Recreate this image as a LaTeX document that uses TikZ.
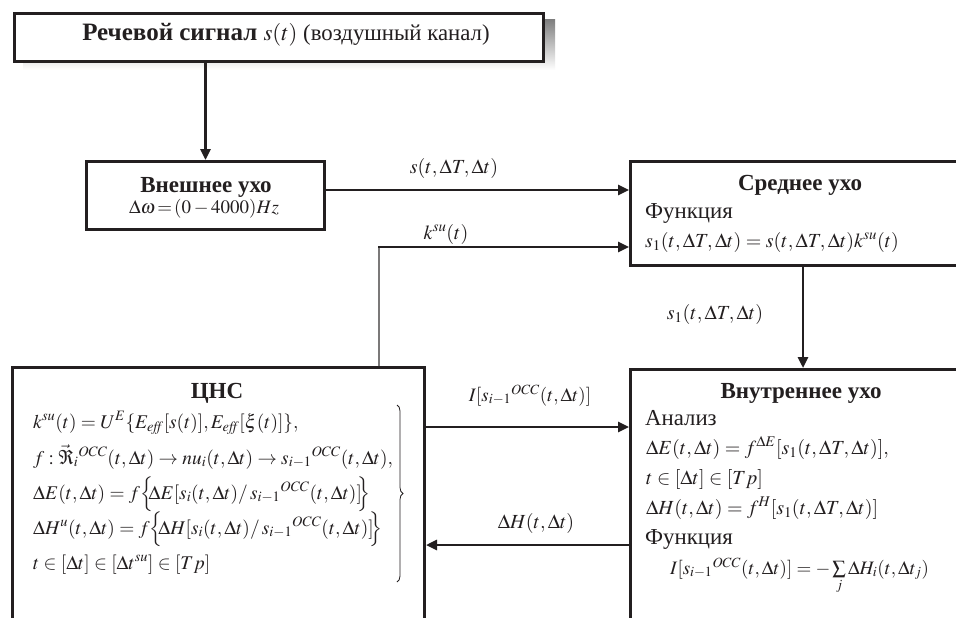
\documentclass[tikz,border=0pt]{standalone}
\usepackage{mathptmx}
\usepackage[no-math]{fontspec}
\setmainfont{Liberation Serif}
\usetikzlibrary{arrows.meta,decorations.pathreplacing}
\definecolor{ink}{RGB}{35,31,32}
\definecolor{shade}{RGB}{150,150,155}
\tikzset{
  boxnode/.style={draw=ink, line width=3pt, fill=white, anchor=north west, inner sep=0pt},
  arr/.style={draw=ink, line width=2.6pt, -{Triangle[length=11pt,width=10pt]}},
  thinline/.style={draw=ink!60, line width=1.1pt},
  txt/.style={inner sep=0pt, font=\fontsize{20}{24}\selectfont, text=ink},
  ttl/.style={inner sep=0pt, font=\fontsize{23}{27}\selectfont\bfseries, text=ink},
  lft/.style={txt, anchor=base west},
  cnsline/.style={lft, font=\fontsize{19.4}{23}\selectfont},
  word/.style={lft, font=\fontsize{22.8}{26}\selectfont},
}
\begin{document}
\begin{tikzpicture}[x=1pt,y=-1pt]
\clip (0,0) rectangle (956,618);
\fill[white] (0,0) rectangle (956,618);
% top box with shadow
\fill[shade] (23,20) rectangle (555,70);
\node[boxnode, minimum width=529pt, minimum height=48pt] (top) at (13,12) {};
\node[txt, anchor=base] (toptxt) at (286,41) {\fontsize{25}{29}\selectfont\textbf{Речевой сигнал} {\fontsize{22.8}{27}\selectfont$s(t)$ (воздушный канал)}};
% outer ear
\node[boxnode, minimum width=238pt, minimum height=68pt] (outer) at (85,160) {};
\node[ttl, anchor=base] (outerT) at (206,192) {Внешнее ухо};
\node[txt, anchor=base, font=\fontsize{19}{23}\selectfont] (outerF) at (204,213) {$\Delta\omega\,{=}\,(0-4000)Hz$};
% middle ear
\node[boxnode, minimum width=342pt, minimum height=104pt] (middle) at (629,160) {};
\node[ttl, anchor=base] (middleT) at (800,190) {Среднее ухо};
\node[word] (middleA) at (645,218) {Функция};
\node[lft] (middleF) at (645,247) {$s_1(t,\Delta T,\Delta t) = s(t,\Delta T,\Delta t)k^{su}(t)$};
% inner ear
\node[boxnode, minimum width=342pt, minimum height=272pt] (inner) at (629,368) {};
\node[ttl, anchor=base] (innerT) at (801,398) {Внутреннее ухо};
\node[word] (innerA) at (645,425) {Анализ};
\node[lft] (innerB) at (646,454) {$\Delta E(t,\Delta t) = f^{\Delta E}[s_1(t,\Delta T,\Delta t)],$};
\node[lft] (innerC) at (646,484) {$t\in[\Delta t]\in[Tp]$};
\node[lft] (innerD) at (646,514) {$\Delta H(t,\Delta t) = f^{H}[s_1(t,\Delta T,\Delta t)]$};
\node[word] (innerE) at (645,544) {Функция};
\node[lft, font=\fontsize{19}{23}\selectfont] (innerF) at (670,574) {$I[s_{i-1}{}^{OCC}(t,\Delta t)] = -\sum\limits_j \Delta H_i(t,\Delta t_j)$};
% CNS
\node[boxnode, minimum width=412pt, minimum height=274pt] (cns) at (11,366) {};
\node[ttl, anchor=base] (cnsT) at (217,398) {ЦНС};
\node[cnsline] (cnsA) at (33,428) {$k^{su}(t) = U^E\{E_{\mathit{eff}}[s(t)],E_{\mathit{eff}}[\xi(t)]\},$};
\node[cnsline] (cnsB) at (33,464) {$f:\vec{\Re}_i{}^{OCC}(t,\Delta t)\to nu_i(t,\Delta t)\to s_{i-1}{}^{OCC}(t,\Delta t),$};
\node[cnsline] (cnsC) at (33,499) {$\Delta E(t,\Delta t) = f\Big\{\!\!\Delta E[s_i(t,\Delta t)/\,s_{i-1}{}^{OCC}(t,\Delta t)]\!\!\Big\}$};
\node[cnsline] (cnsD) at (33,534) {$\Delta H^u(t,\Delta t) = f\Big\{\!\!\Delta H[s_i(t,\Delta t)/\,s_{i-1}{}^{OCC}(t,\Delta t)]\!\!\Big\}$};
\node[cnsline] (cnsE) at (33,569) {$t\in[\Delta t]\in[\Delta t^{su}]\in[Tp]$};
\coordinate (braceTop) at (397,405);
\coordinate (braceBot) at (397,582);
\draw[ink, line width=0.8pt, decorate, decoration={brace, amplitude=6pt}] (braceTop) -- (braceBot);
% connectors
\draw[arr] (outer.north |- top.south) -- (outer.north);
\coordinate (sy) at (0,190);
\draw[arr] (sy -| outer.east) -- (sy -| middle.west);
\node[txt, anchor=base] (lblS) at (454,173) {$s(t,\Delta T,\Delta t)$};
\coordinate (kbend) at (379,247);
\draw[thinline] (kbend |- cns.north) -- (kbend);
\draw[arr] ([xshift=-1pt]kbend) -- (kbend -| middle.west);
\node[txt, anchor=base] (lblK) at (446,239) {$k^{su}(t)$};
\coordinate (sx) at (803,0);
\draw[arr] (sx |- middle.south) -- (sx |- inner.north);
\node[txt, anchor=base] (lblS1) at (715,319) {$s_1(t,\Delta T,\Delta t)$};
\coordinate (iy) at (0,427);
\draw[arr] (iy -| cns.east) -- (iy -| inner.west);
\node[txt, anchor=base, font=\fontsize{19}{23}\selectfont] (lblI) at (530,401) {$I[s_{i-1}{}^{OCC}(t,\Delta t)]$};
\coordinate (hy) at (0,545);
\draw[arr] (hy -| inner.west) -- (hy -| cns.east);
\node[txt, anchor=base] (lblH) at (536,528) {$\Delta H(t,\Delta t)$};
\end{tikzpicture}
\end{document}
